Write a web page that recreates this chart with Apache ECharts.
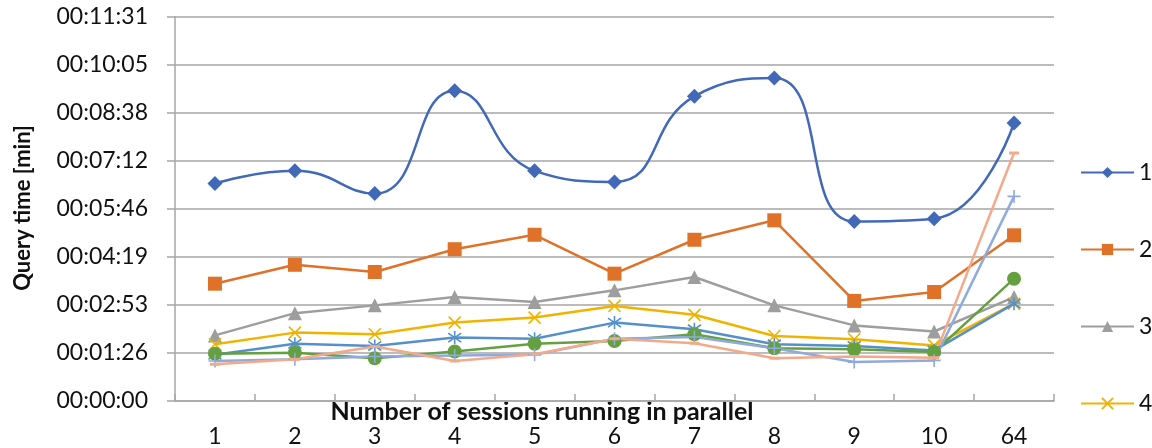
<!DOCTYPE html>
<html lang="en">
<head>
    <meta charset="UTF-8">
    <title>Query time</title>
    <script src="https://cdn.jsdelivr.net/npm/echarts@6/dist/echarts.min.js"></script>
    <style>
        html, body { margin: 0; padding: 0; background: #fff; }
        #chart1 { width: 1152px; height: 448px; }
    </style>
</head>
<body>
<div id="chart1"></div>
<script type="text/javascript">
    // categories (number of parallel sessions)
    var sessions = ['1', '2', '3', '4', '5', '6', '7', '8', '9', '10', '64'];

    // query times, in seconds
    var run1 = [391, 414, 373, 558, 414, 394, 548, 581, 323, 328, 500];
    var run2 = [211, 245, 232, 273, 299, 229, 290, 325, 180, 196, 298];
    var run3 = [118, 158, 172, 187, 178, 199, 223, 172, 136, 125, 187];
    var run4 = [102, 123, 120, 141, 150, 171, 155, 117, 111, 100, 175];
    var run5 = [83, 103, 99, 114, 112, 141, 129, 102, 99, 91, 175];
    var run6 = [85, 87, 77, 89, 103, 108, 120, 95, 93, 88, 220];
    var run7 = [72, 75, 80, 82, 83, 112, 115, 95, 70, 73, 368];
    var run8 = [66, 75, 98, 72, 84, 112, 104, 77, 80, 78, 446];

    // y ticks every 0.001 day (86.4 s), like the spreadsheet axis
    var yStep = 86.4;
    var yMax = 691.2;

    var FONT = 'Lato';

    function pad(n) { return (n < 10 ? '0' : '') + n; }
    function fmtTime(v) {
        var s = Math.round(v);
        return pad(Math.floor(s / 3600)) + ':' + pad(Math.floor(s / 60) % 60) + ':' + pad(s % 60);
    }

    var X_PATH = 'path://M0,0L10,10M10,0L0,10';
    var STAR_PATH = 'path://M5,0L5,10M1.5,1.5L8.5,8.5M8.5,1.5L1.5,8.5';
    var PLUS_PATH = 'path://M5,0L5,10M0,5L10,5';

    function mkSeries(name, data, color, symbol, size, extra) {
        var s = {
            name: name,
            type: 'line',
            data: data,
            color: color,
            symbol: symbol,
            symbolSize: size,
            showAllSymbol: true,
            lineStyle: { width: 2.5, color: color },
            itemStyle: { color: color, borderColor: color, borderWidth: 0 },
            emphasis: { disabled: true },
            animation: false
        };
        if (extra) {
            for (var k in extra) s[k] = extra[k];
        }
        return s;
    }

    var myChart1 = echarts.init(document.getElementById('chart1'));
    myChart1.setOption({
        backgroundColor: '#fff',
        animation: false,
        grid: { left: 175, right: 98, top: 16.7, bottom: 46.3 },
        legend: {
            orient: 'vertical',
            left: 1075,
            top: 156,
            itemWidth: 53,
            itemHeight: 14,
            itemGap: 54,
            data: ['1', '2', '3', '4'],
            textStyle: { fontFamily: FONT, fontSize: 23, color: '#111', padding: [0, 0, 0, 0] }
        },
        graphic: [
            {
                type: 'text',
                x: 23, y: 208,
                rotation: Math.PI / 2,
                style: {
                    text: 'Query time [min]',
                    font: 'bold 22px ' + FONT,
                    fill: '#111',
                    align: 'center',
                    verticalAlign: 'middle'
                }
            },
            {
                type: 'text',
                x: 542, y: 412,
                style: {
                    text: 'Number of sessions running in parallel',
                    font: 'bold 25px ' + FONT,
                    fill: '#111',
                    align: 'center',
                    verticalAlign: 'middle'
                }
            }
        ],
        xAxis: {
            type: 'category',
            data: sessions,
            boundaryGap: true,
            axisLine: { lineStyle: { color: '#A6A6A6', width: 1.5 } },
            axisTick: { show: true, inside: true, length: 7, lineStyle: { color: '#A6A6A6', width: 1.5 } },
            axisLabel: { fontFamily: FONT, fontSize: 23, color: '#111', margin: 24 },
            splitLine: { show: false }
        },
        yAxis: {
            type: 'value',
            min: 0,
            max: yMax,
            interval: yStep,
            axisLine: { show: true, lineStyle: { color: '#A6A6A6', width: 1.5 } },
            axisTick: { show: true, length: 8, lineStyle: { color: '#A6A6A6', width: 1.5 } },
            axisLabel: { fontFamily: FONT, fontSize: 23, color: '#111', margin: 27, formatter: fmtTime },
            splitLine: { show: true, lineStyle: { color: '#A6A6A6', width: 1.5 } }
        },
        series: [
            mkSeries('1', run1, '#4169B8', 'diamond', 15, { smooth: 0.5 }),
            mkSeries('2', run2, '#E07128', 'rect', 14),
            mkSeries('3', run3, '#9E9E9E', 'triangle', 14),
            mkSeries('4', run4, '#F0B400', X_PATH, 12, { itemStyle: { color: '#F0B400', borderColor: '#F0B400', borderWidth: 1.6 } }),
            mkSeries('5', run5, '#5590CC', STAR_PATH, 13, { itemStyle: { color: '#5590CC', borderColor: '#5590CC', borderWidth: 1.6 } }),
            mkSeries('6', run6, '#64A040', 'circle', 14),
            mkSeries('7', run7, '#8FAADC', PLUS_PATH, 13, { itemStyle: { color: '#8FAADC', borderColor: '#8FAADC', borderWidth: 1.6 } }),
            mkSeries('8', run8, '#F4A98A', 'rect', [10, 3])
        ]
    });
</script>
</body>
</html>
